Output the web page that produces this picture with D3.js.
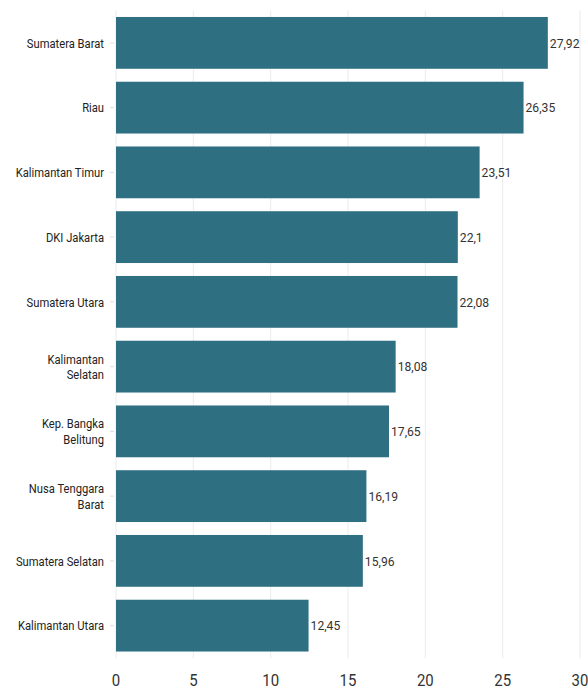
<!DOCTYPE html>
<html>
<head>
<meta charset="utf-8">
<script src="https://cdn.jsdelivr.net/npm/d3@7"></script>
<style>
  body { margin: 0; background: #fff; }
  text { font-family: Roboto, "Noto Sans", sans-serif; }
</style>
</head>
<body>
<svg width="588" height="695"></svg>
<script>
// Data
var provinces = ["Sumatera Barat", "Riau", "Kalimantan Timur", "DKI Jakarta", "Sumatera Utara",
  "Kalimantan Selatan", "Kep. Bangka Belitung", "Nusa Tenggara Barat", "Sumatera Selatan", "Kalimantan Utara"];
var values = [27.92, 26.35, 23.51, 22.1, 22.08, 18.08, 17.65, 16.19, 15.96, 12.45];
var valueLabels = ["27,92", "26,35", "23,51", "22,1", "22,08", "18,08", "17,65", "16,19", "15,96", "12,45"];
var labelLines = [["Sumatera Barat"], ["Riau"], ["Kalimantan Timur"], ["DKI Jakarta"], ["Sumatera Utara"],
  ["Kalimantan", "Selatan"], ["Kep. Bangka", "Belitung"], ["Nusa Tenggara", "Barat"], ["Sumatera Selatan"], ["Kalimantan Utara"]];
var xTicks = [0, 5, 10, 15, 20, 25, 30];

var svg = d3.select("svg"),
    margin = {top: 10.5, right: 8, bottom: 37, left: 116},
    width = 588 - margin.left - margin.right,
    height = 695 - margin.top - margin.bottom,
    g = svg.append("g").attr("transform", "translate(" + margin.left + "," + margin.top + ")");

var x = d3.scaleLinear().domain([0, 30]).range([0, 464]);
var y = d3.scaleBand().domain(provinces).range([0, height]).paddingInner(0.2).paddingOuter(0.1);

// gridlines
g.append("g")
  .selectAll("line")
  .data(xTicks)
  .join("line")
    .attr("x1", d => x(d)).attr("x2", d => x(d))
    .attr("y1", 0).attr("y2", height)
    .attr("stroke", "#ebebeb")
    .attr("stroke-width", 1);

// bars
g.append("g")
  .selectAll("rect")
  .data(provinces)
  .join("rect")
    .attr("x", x(0))
    .attr("y", d => y(d))
    .attr("width", (d, i) => x(values[i]) - x(0))
    .attr("height", y.bandwidth())
    .attr("fill", "#2f6f82");

// value labels (condensed look)
g.append("g")
  .selectAll("text")
  .data(provinces)
  .join("text")
    .attr("transform", (d, i) => "translate(" + (x(values[i]) + 2) + "," + (y(d) + y.bandwidth() / 2) + ") scale(0.9,1)")
    .attr("dy", "0.35em")
    .attr("font-size", 13.5)
    .attr("fill", "#333")
    .text((d, i) => valueLabels[i]);

// y axis ticks + labels
var yl = g.append("g");
yl.selectAll("line")
  .data(provinces)
  .join("line")
    .attr("x1", -6).attr("x2", -2)
    .attr("y1", d => y(d) + y.bandwidth() / 2)
    .attr("y2", d => y(d) + y.bandwidth() / 2)
    .attr("stroke", "#ddd");

yl.selectAll("text")
  .data(provinces)
  .join("text")
    .attr("text-anchor", "end")
    .attr("font-size", 13.5)
    .attr("fill", "#222")
    .attr("transform", d => "translate(-12," + (y(d) + y.bandwidth() / 2) + ") scale(0.83,1)")
    .each(function(d, i) {
      var lines = labelLines[i];
      var lh = 15.5;
      var t = d3.select(this);
      lines.forEach(function(l, j) {
        t.append("tspan")
          .attr("x", 0)
          .attr("y", (j - (lines.length - 1) / 2) * lh)
          .attr("dy", "0.35em")
          .text(l);
      });
    });

// x axis labels
g.append("g")
  .selectAll("text")
  .data(xTicks)
  .join("text")
    .attr("transform", d => "translate(" + x(d) + "," + (height + 28) + ") scale(0.88,1)")
    .attr("text-anchor", "middle")
    .attr("font-size", 17)
    .attr("fill", "#333")
    .text(d => d);
</script>
</body>
</html>
